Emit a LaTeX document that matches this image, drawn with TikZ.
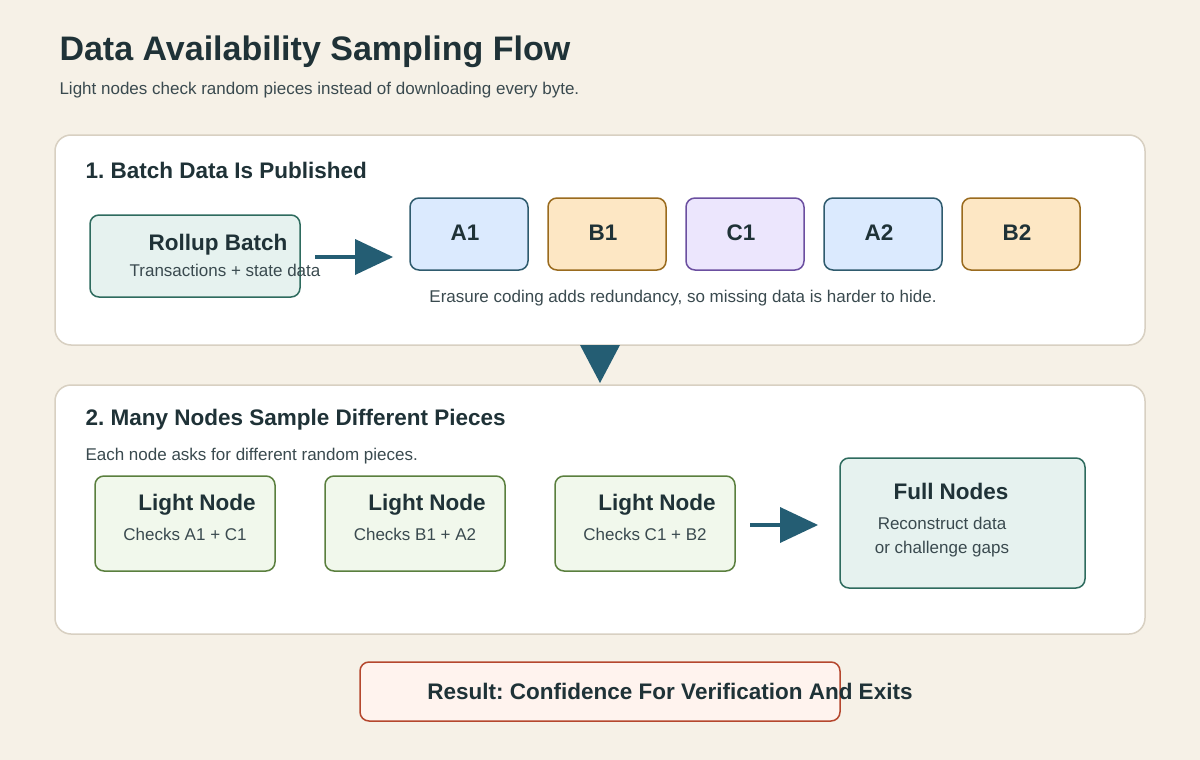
\documentclass[tikz,border=0pt]{standalone}
\usepackage{fontspec}
\setmainfont{Liberation Sans}
\frenchspacing
\begin{document}
\definecolor{bg}{HTML}{F6F1E7}
\definecolor{ink}{HTML}{1F3237}
\definecolor{sub}{HTML}{3A4A4F}
\definecolor{panelb}{HTML}{D8D0C2}
\definecolor{arr}{HTML}{245D73}
\definecolor{tealf}{HTML}{E6F2EF}\definecolor{tealb}{HTML}{2E6B5E}
\definecolor{bluef}{HTML}{DBEAFE}\definecolor{blueb}{HTML}{2F5B6E}
\definecolor{orf}{HTML}{FDE7C4}\definecolor{orb}{HTML}{9A6B1E}
\definecolor{puf}{HTML}{ECE6FD}\definecolor{pub}{HTML}{6B4FA0}
\definecolor{grf}{HTML}{F1F8EC}\definecolor{grb}{HTML}{5A7F3E}
\definecolor{ref}{HTML}{FFF3EE}\definecolor{reb}{HTML}{B5472E}
\begin{tikzpicture}[x=1pt,y=-1pt,
  panel/.style={draw=panelb,line width=1.5pt,fill=white,rounded corners=16pt},
  box/.style={line width=1.5pt,rounded corners=9pt},
  big/.style={font=\bfseries\fontsize{22.5}{26}\selectfont,text=ink},
  small/.style={font=\fontsize{17}{20}\selectfont,text=sub},
  head/.style={anchor=west,font=\bfseries\fontsize{22.5}{26}\selectfont,text=ink},
  tri/.style={fill=arr,draw=none}]
\fill[bg] (0,0) rectangle (1200,760);
\node[anchor=west,font=\bfseries\fontsize{34}{40}\selectfont,text=ink] (title) at (56,52) {Data Availability Sampling Flow};
\node[anchor=west,small] (subt) at (56,90) {Light nodes check random pieces instead of downloading every byte.};
% panel 1
\draw[panel] (55,135) rectangle (1145,345);
\node[head] (h1) at (82,170) {1. Batch Data Is Published};
\draw[box,draw=tealb,fill=tealf] (90,215) rectangle (300,297);
\node[big] (rb) at (218,245) {Rollup Batch};
\node[small] (rbs) at (225,270) {Transactions + state data};
\coordinate (a1s) at (315,257); \coordinate (a1e) at (356,257);
\draw[arr,line width=4pt] (a1s) -- (a1e);
\fill[tri] (355,239) -- (393,257) -- (355,275) -- cycle;
\foreach \x/\t/\f/\b in {410/A1/bluef/blueb,548/B1/orf/orb,686/C1/puf/pub,824/A2/bluef/blueb,962/B2/orf/orb}{
  \draw[box,draw=\b,fill=\f] (\x,198) rectangle (\x+118,270);
  \node[big] (p\t) at (\x+55,233) {\t};
}
\node[small] (cap) at (683,298) {Erasure coding adds redundancy, so missing data is harder to hide.};
\fill[tri] (580,345) -- (620,345) -- (600,383) -- cycle;
% panel 2
\draw[panel] (55,385) rectangle (1145,634);
\node[head] (h2) at (82,420) {2. Many Nodes Sample Different Pieces};
\node[anchor=west,small] (h2s) at (82,456) {Each node asks for different random pieces.};
\foreach \x/\t/\n in {95/Checks A1 + C1/1,325/Checks B1 + A2/2,555/Checks C1 + B2/3}{
  \draw[box,draw=grb,fill=grf] (\x,476) rectangle (\x+180,571);
  \node[big] (ln\n) at (\x+102,505) {Light Node};
  \node[small] (ls\n) at (\x+90,534) {\t};
}
\coordinate (a2s) at (750,525); \coordinate (a2e) at (781,525);
\draw[arr,line width=4pt] (a2s) -- (a2e);
\fill[tri] (780,507) -- (818,525) -- (780,543) -- cycle;
\draw[box,draw=tealb,fill=tealf] (840,458) rectangle (1085,588);
\node[big] (fn) at (951,491) {Full Nodes};
\node[small] (fn1) at (942,523) {Reconstruct data};
\node[small] (fn2) at (942,549) {or challenge gaps};
% result
\draw[box,draw=reb,fill=ref] (360,662) rectangle (840,721);
\node[big] (res) at (670,691) {Result: Confidence For Verification And Exits};
\end{tikzpicture}
\end{document}
